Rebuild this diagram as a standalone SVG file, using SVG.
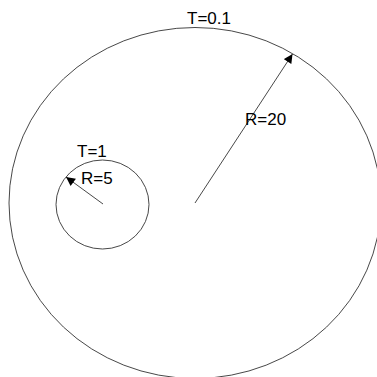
<svg xmlns="http://www.w3.org/2000/svg" width="377" height="377" viewBox="0 0 377 377">
<style>
.shape{fill:none;stroke:#333;stroke-width:0.9}
.conn{stroke:#333;stroke-width:0.9;fill:none}
text{font-family:"Liberation Sans",Arial,sans-serif;font-size:17px;fill:#000}
</style>
<defs>
<marker id="ah" viewBox="0 0 10 10" refX="10" refY="5" markerWidth="10" markerHeight="9" markerUnits="userSpaceOnUse" orient="auto">
<path d="M0,0 L10,5 L0,10 z" fill="#000"/>
</marker>
</defs>
<rect width="377" height="377" fill="#fff"/>
<g id="outer">
<ellipse class="shape" cx="195" cy="203" rx="186" ry="175.5"/>
<text x="187" y="24">T=0.1</text>
</g>
<g id="inner">
<ellipse class="shape" cx="102.5" cy="204.5" rx="46.5" ry="44.5"/>
<text x="77" y="157">T=1</text>
</g>
<g id="connectors">
<line class="conn" x1="195" y1="203" x2="292.5" y2="54" marker-end="url(#ah)"/>
<line class="conn" x1="103" y1="204" x2="66" y2="177" marker-end="url(#ah)"/>
</g>
<g id="labels">
<text x="245" y="125">R=20</text>
<text x="81" y="184">R=5</text>
</g>
</svg>
